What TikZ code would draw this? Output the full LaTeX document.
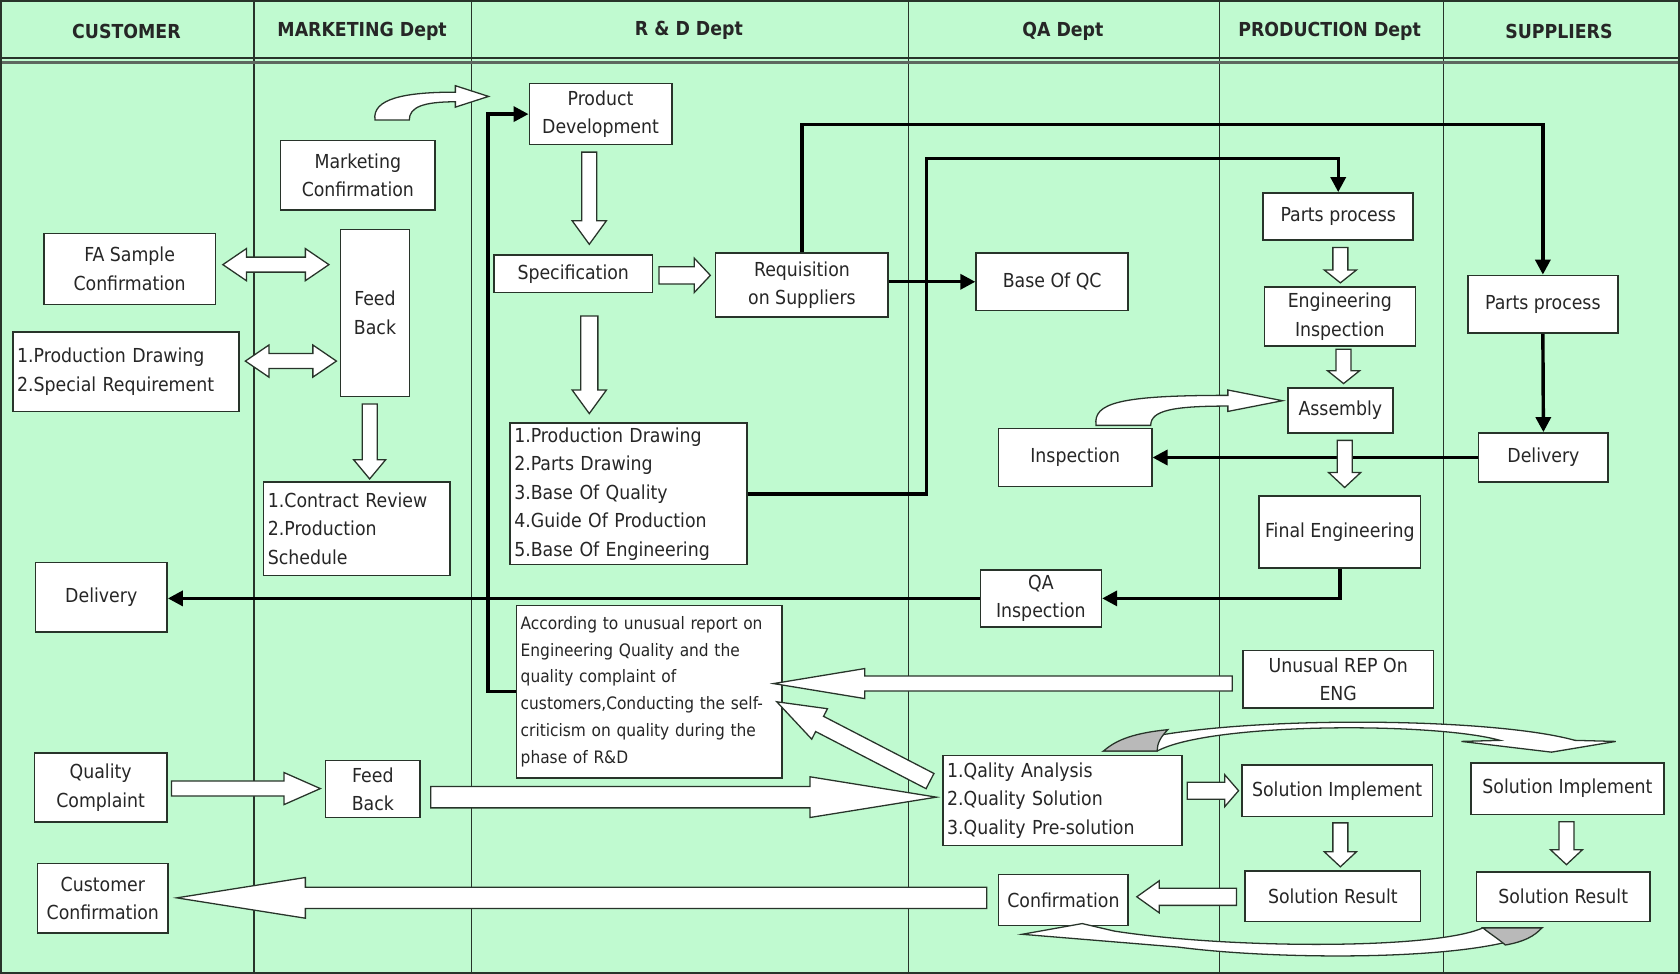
\documentclass[tikz,border=0pt]{standalone}
\usepackage{fontspec}
\setmainfont{DejaVu Sans Condensed}
\usetikzlibrary{calc,arrows.meta}

\definecolor{lane}{RGB}{192,250,208}
\definecolor{edge}{RGB}{40,52,42}

\tikzset{
  box/.style={draw=edge, fill=white, line width=1.4pt, inner sep=3pt, align=center,
    text=black!85, font=\fontsize{18}{26.5}\selectfont},
  listbox/.style={box, align=left, inner sep=4pt},
  head/.style={font=\fontsize{18}{22}\selectfont\bfseries, text=black!85},
  conn/.style={line width=3.2pt, -{Triangle[length=14pt,width=14pt]}},
  hollow/.style={draw=edge, fill=white, line width=1.2pt, line join=miter},
}

\begin{document}
\begin{tikzpicture}[x=1pt,y=-1pt]
\def\fatarrow#1#2#3#4#5{%
  \coordinate (fah) at ($(#2)!#5!(#1)$);
  \draw[hollow] ($(#1)!#3!90:(#2)$) -- ($(fah)!#3!90:(#2)$) -- ($(fah)!#4!90:(#2)$) -- (#2)
    -- ($(fah)!#4!-90:(#2)$) -- ($(fah)!#3!-90:(#2)$) -- ($(#1)!#3!-90:(#2)$) -- cycle;}
\def\twoarrow#1#2#3#4#5{%
  \coordinate (tah) at ($(#1)!#5!(#2)$);
  \coordinate (tbh) at ($(#2)!#5!(#1)$);
  \draw[hollow] (#1) -- ($(tah)!#4!90:(#2)$) -- ($(tah)!#3!90:(#2)$) -- ($(tbh)!#3!90:(#2)$)
    -- ($(tbh)!#4!90:(#2)$) -- (#2) -- ($(tbh)!#4!-90:(#2)$) -- ($(tbh)!#3!-90:(#2)$)
    -- ($(tah)!#3!-90:(#2)$) -- ($(tah)!#4!-90:(#2)$) -- cycle;}
\useasboundingbox (0,0) rectangle (1568,909);

% lanes
\fill[lane] (0,0) rectangle (1568,909);
\foreach \lx in {237,440,848,1138,1347}
  \draw[edge, line width=1.2pt] (\lx,0) -- (\lx,909);
\draw[edge, line width=1.4pt] (0,54) -- (1568,54);
\draw[edge!75, line width=2.6pt] (0,58.5) -- (1568,58.5);
\draw[edge, line width=2pt] (1,1) rectangle (1567,908);

\node[head] (hcust) at (118,29) {CUSTOMER};
\node[head] (hmkt) at (338,29) {MARKETING Dept};
\node[head] (hrd) at (643,28) {R \& D Dept};
\node[head] (hqa) at (992,29) {QA Dept};
\node[head] (hprod) at (1241,29) {PRODUCTION Dept};
\node[head] (hsup) at (1455,29) {SUPPLIERS};

% customer
\node[box, minimum width=160pt, minimum height=66pt] (custfa) at (121,251) {FA Sample\\Confirmation};
\node[listbox, text width=203pt, minimum height=74pt] (custdraw) at (117.5,347) {1.Production Drawing\\2.Special Requirement};
\node[box, minimum width=123pt, minimum height=65pt] (custdel) at (94.5,557.5) {Delivery};
\node[box, minimum width=124pt, minimum height=64pt] (custqc) at (94,735) {Quality\\Complaint};
\node[box, minimum width=122pt, minimum height=65pt] (custconf) at (96,838.5) {Customer\\Confirmation};

% marketing
\node[box, minimum width=144pt, minimum height=65pt] (mkconf) at (334,163.5) {Marketing\\Confirmation};
\node[box, minimum width=64pt, minimum height=156pt] (mkfb) at (350,292) {Feed\\Back};
\node[listbox, text width=166pt, minimum height=87pt] (mkcontract) at (333,493.5) {1.Contract Review\\2.Production\\Schedule};
\node[box, minimum width=88pt, minimum height=53pt] (mkfb2) at (348,736.5) {Feed\\Back};

% R & D
\node[box, minimum width=133pt, minimum height=57pt] (rdpd) at (560.5,106.5) {Product\\Development};
\node[box, minimum width=148pt, minimum height=35pt] (rdspec) at (535,255.5) {Specification};
\node[box, minimum width=161pt, minimum height=60pt] (rdreq) at (748.5,266) {Requisition\\on Suppliers};
\node[listbox, text width=213pt, minimum height=132pt] (rdlist) at (586.5,461) {1.Production Drawing\\2.Parts Drawing\\3.Base Of Quality\\4.Guide Of Production\\5.Base Of Engineering};
\node[listbox, text width=240pt, minimum height=161pt, font=\fontsize{16}{25}\selectfont] (rdreport) at (606,645.5) {According to unusual report on\\Engineering Quality and the\\quality complaint of\\customers,Conducting the self-\\criticism on quality during the\\phase of R\&D};

% QA
\node[box, minimum width=142pt, minimum height=54pt] (qabase) at (982,263) {Base Of QC};
\node[box, minimum width=143pt, minimum height=54pt] (qainsp) at (1003.5,427) {Inspection};
\node[box, minimum width=113pt, minimum height=53pt] (qaqa) at (971.5,558.5) {QA\\Inspection};
\node[listbox, text width=215pt, minimum height=84pt] (qalist) at (991.5,747) {1.Qality Analysis\\2.Quality Solution\\3.Quality Pre-solution};
\node[box, minimum width=121pt, minimum height=48pt] (qaconf) at (992.5,840) {Confirmation};

% production
\node[box, minimum width=140pt, minimum height=44pt] (prparts) at (1249,202) {Parts process};
\node[box, minimum width=141pt, minimum height=55pt] (preng) at (1250.5,295.5) {Engineering\\Inspection};
\node[box, minimum width=98pt, minimum height=42pt] (prasm) at (1251,383) {Assembly};
\node[box, minimum width=151pt, minimum height=67pt] (prfinal) at (1250.5,496.5) {Final Engineering};
\node[box, minimum width=178pt, minimum height=54pt] (prunusual) at (1249,634) {Unusual REP On\\ENG};
\node[box, minimum width=178pt, minimum height=48pt] (prsolimp) at (1248,738) {Solution Implement};
\node[box, minimum width=164pt, minimum height=47pt] (prsolres) at (1244,836.5) {Solution Result};

% suppliers
\node[box, minimum width=140pt, minimum height=54pt] (suparts) at (1440,284) {Parts process};
\node[box, minimum width=121pt, minimum height=46pt] (supdel) at (1440.5,427) {Delivery};
\node[box, minimum width=180pt, minimum height=48pt] (supsolimp) at (1463,736) {Solution Implement};
\node[box, minimum width=162pt, minimum height=46pt] (supsolres) at (1459,837) {Solution Result};

% connectors
\draw[conn] (rdreq.north) -- ++(0,-119) -| (suparts.north);
\draw[conn] (rdlist.east) -- ++(167,0) -- ++(0,-313) -| (prparts.north);
\draw[conn] (rdreq.east |- qabase.west) -- (qabase.west);
\draw[conn] (suparts.south) -- (supdel.north);
\draw[conn] (supdel.west) -- (qainsp.east);
\draw[conn] (prfinal.south) |- (qaqa.east);
\draw[conn] (qaqa.west) -- (custdel.east |- qaqa.west);
\draw[conn] (rdreport.west) -- ++(-26,0) |- (rdpd.west);

% block arrows
\coordinate (d1a) at (208,247); \coordinate (d1b) at (307,247);
\coordinate (d2a) at (229,337); \coordinate (d2b) at (314,337);
\twoarrow{d1a}{d1b}{7pt}{15pt}{22pt}
\twoarrow{d2a}{d2b}{7pt}{15pt}{22pt}
\coordinate (fbdown) at (345,377); \coordinate (ctup) at (345,447);
\fatarrow{fbdown}{ctup}{7pt}{15pt}{18pt}
\coordinate (pddown) at (550,142); \coordinate (specup) at (550,228);
\fatarrow{pddown}{specup}{7pt}{16pt}{22pt}
\coordinate (specright) at (615,257); \coordinate (reqleft) at (663,257);
\fatarrow{specright}{reqleft}{8pt}{16pt}{15pt}
\coordinate (specdown) at (550,295); \coordinate (listup) at (550,386);
\fatarrow{specdown}{listup}{8pt}{16pt}{22pt}
\coordinate (pp1) at (1251,231); \coordinate (pp2) at (1251,264);
\fatarrow{pp1}{pp2}{7pt}{15pt}{12pt}
\coordinate (ei1) at (1254,326); \coordinate (ei2) at (1254,358);
\fatarrow{ei1}{ei2}{7pt}{15pt}{12pt}
\coordinate (as1) at (1255,411); \coordinate (as2) at (1255,455);
\fatarrow{as1}{as2}{7pt}{15pt}{14pt}
\coordinate (unleft) at (1150,638); \coordinate (repright) at (722,638);
\fatarrow{unleft}{repright}{7pt}{14pt}{85pt}
\coordinate (qcright) at (160,736); \coordinate (fbleft) at (299,736);
\fatarrow{qcright}{fbleft}{7pt}{15pt}{34pt}
\coordinate (fbright) at (402,744); \coordinate (qaleft) at (874,744);
\fatarrow{fbright}{qaleft}{10pt}{19pt}{118pt}
\coordinate (qadiag) at (868,729); \coordinate (repdiag) at (725,655);
\fatarrow{qadiag}{repdiag}{8pt}{16pt}{45pt}
\coordinate (qaright) at (1108,738); \coordinate (simleft) at (1156,738);
\fatarrow{qaright}{simleft}{8pt}{15pt}{13pt}
\coordinate (si1) at (1251,768); \coordinate (si2) at (1251,809);
\fatarrow{si1}{si2}{7pt}{15pt}{14pt}
\coordinate (ss1) at (1462,767); \coordinate (ss2) at (1462,807);
\fatarrow{ss1}{ss2}{7pt}{15pt}{14pt}
\coordinate (srleft) at (1154,837); \coordinate (cfright) at (1061,837);
\fatarrow{srleft}{cfright}{8pt}{15pt}{21pt}
\coordinate (cfleft) at (921,838); \coordinate (ccright) at (165,838);
\fatarrow{cfleft}{ccright}{10pt}{19pt}{120pt}

% bent arrows
\draw[hollow] (350,112) .. controls (347,92) and (378,86) .. (425,86) -- (425,80) -- (456,90)
  -- (425,100) -- (425,95) .. controls (395,95) and (382,100) .. (382,112) -- cycle;
\draw[hollow] (1023,397) .. controls (1020,376) and (1045,369) .. (1146,369) -- (1146,364)
  -- (1197,374) -- (1146,384) -- (1146,379) .. controls (1095,379) and (1074,383) .. (1074,397) -- cycle;

% ribbon arrows
\draw[hollow] (1030,701) .. controls (1090,668) and (1380,666) .. (1470,691) -- (1508,692)
  -- (1448,702) -- (1364,692) -- (1400,691) .. controls (1340,674) and (1130,674) .. (1080,701) -- cycle;
\filldraw[fill=gray!55, draw=edge, line width=1.2pt] (1030,701) .. controls (1042,690) and (1060,684) .. (1090,681)
  .. controls (1083,688) and (1080,694) .. (1080,701) -- cycle;
\draw[hollow] (954,872) -- (1010,862) -- (1040,869) .. controls (1150,886) and (1340,886) .. (1384,866)
  -- (1439,866) .. controls (1400,897) and (1200,897) .. (1100,884) -- cycle;
\filldraw[fill=gray!55, draw=edge, line width=1.2pt] (1384,866) -- (1439,866) .. controls (1432,874) and (1422,879) .. (1405,882)
  .. controls (1398,876) and (1390,871) .. (1384,866) -- cycle;
\end{tikzpicture}
\end{document}
